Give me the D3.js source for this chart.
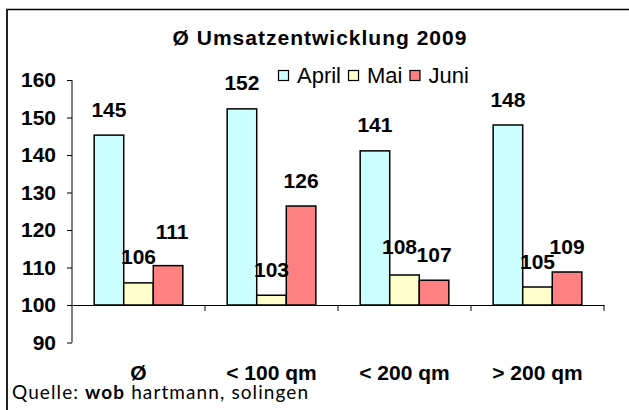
<!DOCTYPE html>
<html>
<head>
<meta charset="utf-8">
<script src="https://cdn.jsdelivr.net/npm/d3@7"></script>
<style>
  body { margin: 0; background: #fff; }
  svg { display: block; }
  text { font-family: "Liberation Sans", Arial, sans-serif; }
</style>
</head>
<body>
<div id="chart"></div>
<script>
// data
var categories = ["Ø", "< 100 qm", "< 200 qm", "> 200 qm"];
var seriesNames = ["April", "Mai", "Juni"];
var april = [145.3, 152.3, 141.1, 148];
var mai = [105.9, 102.6, 108, 104.8];
var juni = [110.5, 126.4, 106.6, 108.8];
var yTicks = [90, 100, 110, 120, 130, 140, 150, 160];

var colors = { April: "#ccffff", Mai: "#ffffcc", Juni: "#ff8080" };
// small hand nudges for labels that Excel moved apart
var labelNudge = { "Juni|0": [4, -8], "Mai|2": [-5, -3] };

var W = 629, H = 410;
var svg = d3.select("#chart").append("svg")
  .attr("width", W)
  .attr("height", H);

svg.append("rect").attr("width", W).attr("height", H).attr("fill", "#fff");

// frame (only top and left edges are visible)
svg.append("line").attr("x1", 6).attr("x2", W).attr("y1", 9.5).attr("y2", 9.5)
  .attr("stroke", "#000").attr("stroke-width", 1.5);
svg.append("line").attr("x1", 7).attr("x2", 7).attr("y1", 9).attr("y2", H)
  .attr("stroke", "#222").attr("stroke-width", 2);

var data = categories.map(function(c, i) {
  return { cat: c, i: i, vals: [april[i], mai[i], juni[i]] };
});

var x0 = d3.scaleBand().domain(categories).range([72, 604]).padding(0);
var x1 = d3.scaleBand().domain(seriesNames).range([0, x0.bandwidth()])
  .paddingInner(0).paddingOuter(0.75);
var y = d3.scaleLinear().domain([90, 160]).range([342.5, 80]);

// title
svg.append("text")
  .attr("x", 320).attr("y", 45)
  .attr("text-anchor", "middle")
  .style("font-size", "21px").style("font-weight", "bold")
  .style("letter-spacing", "1px")
  .text("Ø Umsatzentwicklung 2009");

// y axis
var yAxis = svg.append("g")
  .attr("transform", "translate(72,0)")
  .call(d3.axisLeft(y).tickValues(yTicks).tickSize(5).tickPadding(11));
yAxis.select(".domain").attr("stroke", "#000").attr("d", "M0," + y(160) + "V" + y(90));
yAxis.selectAll(".tick line").attr("stroke", "#000");
yAxis.selectAll("text")
  .style("font-family", "'Liberation Sans', Arial, sans-serif")
  .style("font-size", "21px").style("font-weight", "bold").attr("fill", "#000");

// bars
var groups = svg.selectAll("g.grp")
  .data(data)
  .enter().append("g")
  .attr("class", "grp")
  .attr("transform", function(d) { return "translate(" + x0(d.cat) + ",0)"; });

groups.selectAll("rect")
  .data(function(d) {
    return seriesNames.map(function(s, k) { return { s: s, v: d.vals[k], i: d.i }; });
  })
  .enter().append("rect")
  .attr("x", function(d) { return x1(d.s); })
  .attr("y", function(d) { return y(d.v); })
  .attr("width", x1.bandwidth())
  .attr("height", function(d) { return y(100) - y(d.v); })
  .attr("fill", function(d) { return colors[d.s]; })
  .attr("stroke", "#000")
  .attr("stroke-width", 1.5);

// x axis sits at 100
var xAxis = svg.append("g")
  .attr("transform", "translate(0," + y(100) + ")")
  .call(d3.axisBottom(x0).tickSize(0).tickFormat(""));
xAxis.select(".domain").attr("stroke", "#000");
xAxis.selectAll(".tick").remove();
xAxis.selectAll("line.sep")
  .data(categories)
  .enter().append("line")
  .attr("class", "sep")
  .attr("x1", function(d) { return x0(d) + x0.bandwidth(); })
  .attr("x2", function(d) { return x0(d) + x0.bandwidth(); })
  .attr("y1", 0).attr("y2", 6)
  .attr("stroke", "#000");

// category labels
svg.selectAll("text.cat")
  .data(categories)
  .enter().append("text")
  .attr("class", "cat")
  .attr("x", function(d) { return x0(d) + x0.bandwidth() / 2; })
  .attr("y", 380)
  .attr("text-anchor", "middle")
  .style("font-size", "21px").style("font-weight", "bold")
  .text(function(d) { return d; });

// value labels
groups.selectAll("text.val")
  .data(function(d) {
    return seriesNames.map(function(s, k) { return { s: s, v: d.vals[k], i: d.i }; });
  })
  .enter().append("text")
  .attr("class", "val")
  .attr("x", function(d) {
    var n = labelNudge[d.s + "|" + d.i];
    return x1(d.s) + x1.bandwidth() / 2 + (n ? n[0] : 0);
  })
  .attr("y", function(d) {
    var n = labelNudge[d.s + "|" + d.i];
    return y(d.v) - 18.5 + (n ? n[1] : 0);
  })
  .attr("text-anchor", "middle")
  .style("font-size", "21px").style("font-weight", "bold")
  .text(function(d) { return Math.round(d.v); });

// legend
var legend = svg.append("g").attr("transform", "translate(278,70)");
var lx = 0;
seriesNames.forEach(function(s) {
  legend.append("rect")
    .attr("x", lx + 0.5).attr("y", 0.5)
    .attr("width", 10).attr("height", 10)
    .attr("fill", colors[s]).attr("stroke", "#000").attr("stroke-width", 1.2);
  var t = legend.append("text")
    .attr("x", lx + 19).attr("y", 13)
    .style("font-size", "22px")
    .text(s);
  lx += 19 + t.node().getComputedTextLength() + 7;
});

// source line
var src = svg.append("text")
  .attr("x", 12).attr("y", 399)
  .style("font-family", "Lato, 'DejaVu Sans', sans-serif")
  .style("font-size", "19px")
  .style("letter-spacing", "1.1px");
src.append("tspan").text("Quelle: ");
src.append("tspan").style("font-weight", "bold").text("wob");
src.append("tspan").text(" hartmann, solingen");
</script>
</body>
</html>
